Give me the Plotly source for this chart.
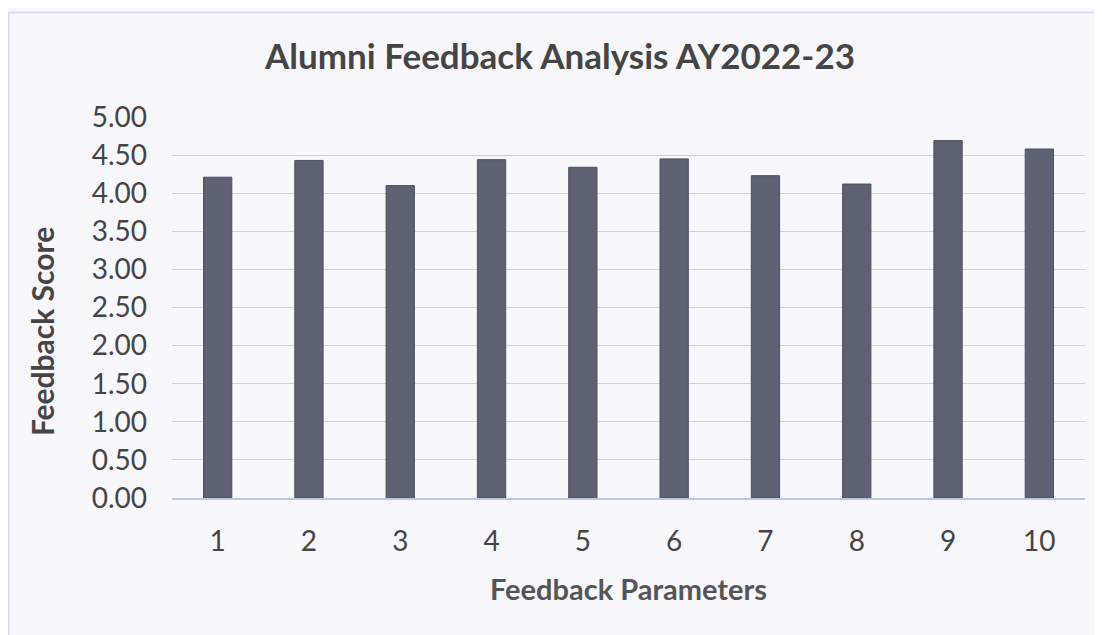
import plotly.graph_objects as go

parameters = ["1", "2", "3", "4", "5", "6", "7", "8", "9", "10"]
scores = [4.21, 4.43, 4.10, 4.44, 4.34, 4.45, 4.23, 4.12, 4.69, 4.58]
y_ticks = [0, 0.5, 1, 1.5, 2, 2.5, 3, 3.5, 4, 4.5, 5]
y_tick_labels = ["0.00", "0.50", "1.00", "1.50", "2.00", "2.50", "3.00", "3.50", "4.00", "4.50", "5.00"]

fig = go.Figure(go.Bar(
    x=parameters, y=scores,
    marker=dict(color="#5c6272", line=dict(color="#4c5160", width=1)),
    width=0.31,
))

font_family = "Lato, 'Open Sans', sans-serif"
fig.update_layout(
    width=1094, height=627,
    paper_bgcolor="#f8f7fc", plot_bgcolor="#f8f7fc",
    margin=dict(l=164, r=17, t=109, b=137),
    showlegend=False,
    title=dict(text="<b>Alumni Feedback Analysis AY2022-23</b>", x=0.5046, xanchor="center",
               xref="container", y=0.922, yanchor="middle",
               font=dict(family=font_family, size=35, color="#454545")),
    font=dict(family=font_family, color="#454545"),
    shapes=[dict(type="rect", xref="paper", yref="paper", x0=-0.179, x1=1.1, y0=-0.5, y1=1.274,
                 line=dict(color="#d4d4ec", width=1.5), layer="below")],
    annotations=[dict(text="<b>Feedback Score</b>", xref="paper", yref="paper",
                      x=-0.1424, y=0.438, xanchor="center", yanchor="middle",
                      textangle=-90, showarrow=False,
                      font=dict(family=font_family, size=30, color="#454545"))],
)
fig.update_xaxes(
    title=dict(text="<b>Feedback Parameters</b>", font=dict(size=29, color="#555555"), standoff=23),
    tickfont=dict(size=28, color="#454545"), ticklabelstandoff=18,
    showgrid=False, showline=True, linecolor="#b8c8e8", linewidth=1.5,
)
fig.update_yaxes(
    range=[0, 5], tickvals=y_ticks, ticktext=y_tick_labels,
    tickfont=dict(size=28, color="#454545"), ticklabelstandoff=24,
    showgrid=True, gridcolor="#cfcbe8", gridwidth=1.2, zeroline=False,
)
fig.write_html("out.html")
